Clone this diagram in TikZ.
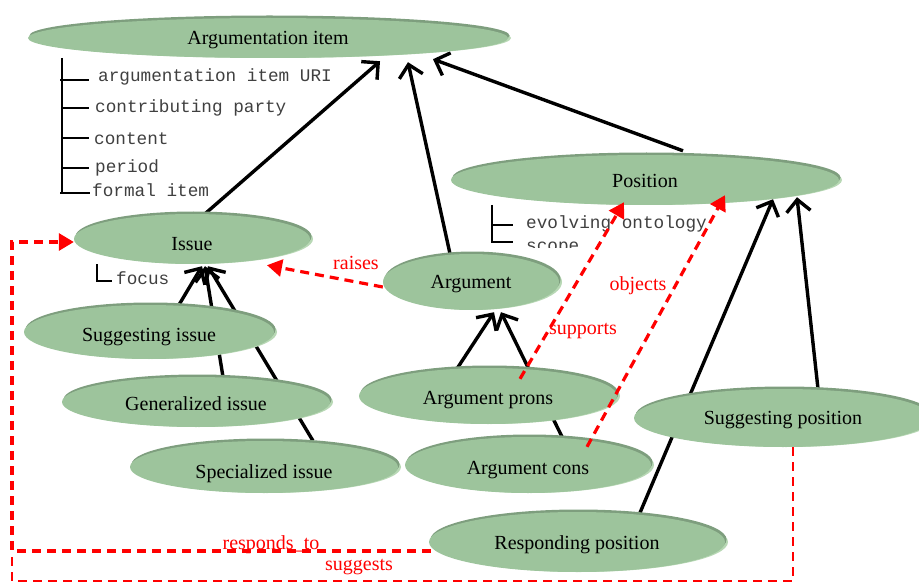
\documentclass[tikz,border=0pt]{standalone}
\usepackage{fontspec}
\setmainfont{Liberation Serif}
\newfontfamily\attrfont{Liberation Mono}
\usetikzlibrary{arrows.meta,shapes.geometric,shadows,backgrounds}

\definecolor{blobfill}{HTML}{9DC49C}
\definecolor{blobrim}{HTML}{7E9E7E}
\definecolor{blobshine}{HTML}{B8D8B5}
\definecolor{attrgray}{HTML}{404040}

\tikzset{
  blob/.style={ellipse, inner sep=0pt, fill=blobfill, draw=none,
    general shadow={fill=blobshine, shadow xshift=3pt, shadow yshift=0pt},
    general shadow={fill=blobrim, shadow xshift=1.5pt, shadow yshift=2.5pt},
    text depth=0pt, font=\fontsize{20}{22}\selectfont},
  isa/.style={line width=3.4pt, black, -{Straight Barb[length=12pt,width=24pt]}},
  rel/.style={line width=3.2pt, red, dash pattern=on 9pt off 6pt,
    -{Triangle[length=15pt,width=17pt]}},
  rellink/.style={line width=2.8pt, red, dash pattern=on 9pt off 6pt},
  rellabel/.style={text=red, font=\fontsize{20}{22}\selectfont, inner sep=0pt},
  attr/.style={text=attrgray, font=\attrfont\fontsize{17.7}{19}\selectfont,
    anchor=west, inner sep=0pt},
  attrline/.style={line width=1.6pt, black},
}

\begin{document}
\begin{tikzpicture}[x=1pt, y=-1pt]
\useasboundingbox (0,0) rectangle (919,583);

% concept ellipses (text height sets where the baseline sits)
\node[blob, minimum width=480pt, minimum height=40pt, text height=13.4pt] (ai)      at (268,38)  {Argumentation item};
\node[blob, minimum width=388pt, minimum height=50pt, text height=15.4pt] (pos)     at (645,180) {Position};
\node[blob, minimum width=236pt, minimum height=50pt, text height=22pt]   (issue)   at (192,239) {Issue};
\node[blob, minimum width=176pt, minimum height=56pt, text height=13pt]   (arg)     at (471,282) {Argument};
\node[blob, minimum width=250pt, minimum height=54pt, text height=19pt]   (sissue)  at (149,332) {Suggesting issue};
\node[blob, minimum width=268pt, minimum height=50pt, text height=17.4pt] (gissue)  at (196,402) {Generalized issue};
\node[blob, minimum width=268pt, minimum height=52pt, text height=22pt]   (spissue) at (264,467) {Specialized issue};
\node[blob, minimum width=258pt, minimum height=56pt, text height=17.4pt] (prons)   at (488,396) {Argument prons};
\node[blob, minimum width=246pt, minimum height=56pt, text height=19pt]   (cons)    at (528,465) {Argument cons};
\node[blob, minimum width=298pt, minimum height=58pt, text height=13.4pt] (spos)    at (783,418) {Suggesting position};
\node[blob, minimum width=296pt, minimum height=60pt, text height=15.4pt] (rpos)    at (577,542) {Responding position};

% subclass links, drawn behind the ellipses
\begin{scope}[on background layer]
  \draw[isa] ([xshift=13pt]issue.north) -- ([xshift=112pt,yshift=-3pt]ai.south);
  \draw[isa] ([xshift=-21pt]arg.north) -- ([xshift=140pt,yshift=-4pt]ai.south);
  \draw[isa] ([xshift=38pt,yshift=4pt]pos.north) -- ([xshift=165pt,yshift=-1pt]ai.south);
  \draw[isa] ([xshift=27pt,yshift=-5pt]sissue.north) -- ([xshift=10pt,yshift=-2pt]issue.south);
  \draw[isa] ([xshift=27pt]gissue.north) -- ([xshift=13pt,yshift=-2pt]issue.south);
  \draw[isa] ([xshift=49pt]spissue.north) -- ([xshift=16pt,yshift=-2pt]issue.south);
  \draw[isa] ([xshift=-37pt,yshift=-10pt]prons.north) -- ([xshift=23pt,yshift=-2pt]arg.south);
  \draw[isa] ([xshift=34pt]cons.north) -- ([xshift=30pt,yshift=-2pt]arg.south);
  \draw[isa] ([xshift=60pt,yshift=-8pt]rpos.north) -- ([xshift=128pt,yshift=6pt]pos.south);
  \draw[isa] ([xshift=35pt]spos.north) -- ([xshift=152pt,yshift=8pt]pos.south);
\end{scope}

% attribute lists
\draw[attrline] (62,58) -- (62,194);
\foreach \yy in {108,138,168} \draw[attrline] (62,\yy) -- (89,\yy);
\draw[attrline] (60,80) -- (89,80);
\draw[attrline] (60,193) -- (90,193);
\node[attr] (a1) at (98,77)  {argumentation item URI};
\node[attr] (a2) at (95,108) {contributing party};
\node[attr] (a3) at (94,139) {content};
\node[attr] (a4) at (95,168) {period};
\node[attr] (a5) at (92,190) {formal item};

\draw[attrline] (97,264) -- (97,281) -- (112,281);
\node[attr] (f1) at (116,278) {focus};

\draw[attrline] (492,205) -- (492,242) -- (513,242);
\draw[attrline] (492,225) -- (513,225);
\node[attr] (p1) at (526,224) {evolving ontology};
\begin{scope}
  \clip (500,234) rectangle (720,247);
  \node[attr] (p2) at (526,249) {scope};
\end{scope}

% named relations
\coordinate (lft) at (12,242);
\coordinate (botl) at (12,581);
\draw[rel] ([yshift=-5pt]arg.west) -- ([xshift=75pt,yshift=-1pt]issue.south);
\draw[rel] ([xshift=32pt,yshift=-11pt]prons.north) -- ([xshift=-21pt,yshift=3pt]pos.south);
\draw[rel] ([xshift=59pt,yshift=-10pt]cons.north) -- ([xshift=80pt,yshift=10pt]pos.south);
\draw[rel] ([xshift=2pt,yshift=-9pt]rpos.west) -| (lft) -- ([yshift=-3pt]issue.west);
\draw[rellink] ([xshift=10pt]spos.south) |- (botl) -- (12,551);

\node[rellabel] (lraises)   at (356,263) {raises};
\node[rellabel] (lsupports) at (583,331) {supports};
\node[rellabel] (lobjects)  at (638,286) {objects};
\node[rellabel] (lresp)     at (271,545) {responds\_to};
\node[rellabel] (lsugg)     at (359,567) {suggests};
\end{tikzpicture}
\end{document}
